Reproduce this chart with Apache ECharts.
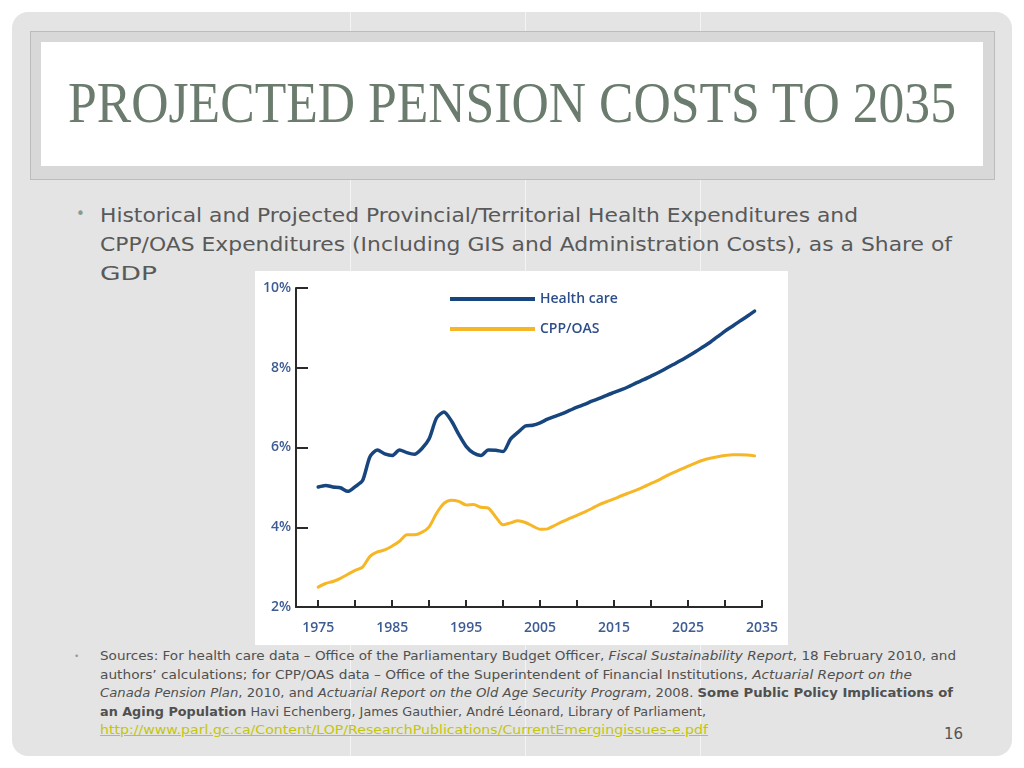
<!DOCTYPE html>
<html><head><meta charset="utf-8">
<script src="https://cdn.jsdelivr.net/npm/echarts@6/dist/echarts.min.js"></script>
<style>
html,body{margin:0;padding:0;width:1024px;height:768px;background:#fff;overflow:hidden;}
#slide{position:absolute;left:12px;top:12px;width:1000px;height:744px;border-radius:16px;background:#e4e4e4;}
.vl{position:absolute;top:12px;width:1px;height:744px;background:rgba(255,255,255,0.6);}
#frame{position:absolute;left:30px;top:31px;width:965px;height:149px;background:#d8d8d8;border:1px solid #bcbcbc;box-sizing:border-box;}
#titlebox{position:absolute;left:41px;top:42px;width:942px;height:124px;background:#fff;}
.line{position:absolute;white-space:nowrap;transform-origin:left top;}
#title{font-family:"Liberation Serif",serif;font-size:57px;line-height:57px;color:#6b7c6e;}
.b1{font-family:"DejaVu Sans",sans-serif;font-size:19px;line-height:29px;color:#595959;}
.src{font-family:"DejaVu Sans",sans-serif;font-size:12.5px;line-height:18px;color:#505050;}
.link{color:#c3c50c;text-decoration:underline;}
#chart{position:absolute;left:255px;top:271px;width:533px;height:374px;background:#fff;}
</style></head>
<body>
<div id="slide"></div>
<div class="vl" style="left:350px"></div>
<div class="vl" style="left:525px"></div>
<div class="vl" style="left:700px"></div>
<div id="frame"></div>
<div id="titlebox"></div>
<div id="title" class="line" style="left:68px;top:74px" data-w="888">PROJECTED PENSION COSTS TO 2035</div>
<div class="line b1" style="left:76px;top:200px;color:#8a9a8c;font-size:15px">•</div>
<div class="line b1" style="left:100px;top:201px" data-w="758">Historical and Projected Provincial/Territorial Health Expenditures and</div>
<div class="line b1" style="left:100px;top:230px" data-w="852">CPP/OAS Expenditures (Including GIS and Administration Costs), as a Share of</div>
<div class="line b1" style="left:100px;top:259px" data-w="57">GDP</div>
<div class="line src" style="left:74px;top:647px;color:#999;font-size:9px">•</div>
<div class="line src" style="left:100px;top:647px" data-w="856">Sources: For health care data – Office of the Parliamentary Budget Officer, <i>Fiscal Sustainability Report</i>, 18 February 2010, and</div>
<div class="line src" style="left:100px;top:665.5px" data-w="812">authors’ calculations; for CPP/OAS data – Office of the Superintendent of Financial Institutions, <i>Actuarial Report on the</i></div>
<div class="line src" style="left:100px;top:684px" data-w="853"><i>Canada Pension Plan</i>, 2010, and <i>Actuarial Report on the Old Age Security Program</i>, 2008. <b>Some Public Policy Implications of</b></div>
<div class="line src" style="left:100px;top:702.5px" data-w="606"><b>an Aging Population</b> Havi Echenberg, James Gauthier, André Léonard, Library of Parliament,</div>
<div class="line src link" style="left:100px;top:721px" data-w="608">http://www.parl.gc.ca/Content/LOP/ResearchPublications/CurrentEmergingissues-e.pdf</div>
<div class="line src" style="left:944px;top:725px;font-size:15px;color:#555">16</div>
<div id="chart"></div>
<script>
const years = [1975,1976,1977,1978,1979,1980,1981,1982,1983,1984,1985,1986,1987,1988,1989,1990,1991,1992,1993,1994,1995,1996,1997,1998,1999,2000,2001,2002,2003,2004,2005,2006,2007,2008,2009,2010,2011,2012,2013,2014,2015,2016,2017,2018,2019,2020,2021,2022,2023,2024,2025,2026,2027,2028,2029,2030,2031,2032,2033,2034];
const healthCare = [5.01,5.05,5.01,4.99,4.90,5.02,5.17,5.77,5.94,5.84,5.80,5.94,5.87,5.83,5.97,6.22,6.74,6.89,6.67,6.33,6.03,5.86,5.80,5.94,5.93,5.90,6.21,6.38,6.54,6.56,6.62,6.71,6.78,6.85,6.93,7.01,7.08,7.16,7.23,7.31,7.38,7.45,7.53,7.62,7.70,7.79,7.88,7.98,8.08,8.18,8.29,8.40,8.52,8.64,8.78,8.92,9.04,9.17,9.29,9.42];
const cppOas = [2.50,2.59,2.64,2.72,2.82,2.92,3.00,3.27,3.38,3.43,3.53,3.65,3.81,3.81,3.87,4.01,4.35,4.60,4.68,4.65,4.56,4.57,4.50,4.48,4.26,4.06,4.11,4.16,4.12,4.03,3.95,3.96,4.05,4.14,4.22,4.30,4.38,4.47,4.57,4.64,4.71,4.79,4.86,4.93,5.01,5.10,5.18,5.28,5.37,5.45,5.53,5.61,5.68,5.73,5.77,5.80,5.82,5.82,5.81,5.79];
const seriesNames = ['Health care','CPP/OAS'];
const xTickValues = [1975,1980,1985,1990,1995,2000,2005,2010,2015,2020,2025,2030,2035];
const xLabelValues = [1975,1985,1995,2005,2015,2025,2035];
const yTicks = [2,4,6,8,10];

document.querySelectorAll('[data-w]').forEach(el=>{
  const w = el.getBoundingClientRect().width;
  el.style.transform = 'scaleX(' + (parseFloat(el.dataset.w)/w) + ')';
});

const chart = echarts.init(document.getElementById('chart'), null, {renderer:'canvas'});
const labelColor = '#3d5c93';
const axisCol = '#2a2a2a';
chart.setOption({
  animation:false,
  backgroundColor:'#fff',
  grid:{left:41,top:17,right:26,bottom:38,containLabel:false},
  legend:{
    left:190, top:16, orient:'vertical', itemGap:16,
    itemWidth:85, itemHeight:4, icon:'rect',
    textStyle:{color:'#2d4e8a',fontFamily:'Open Sans',fontWeight:600,fontSize:14,padding:[0,0,0,0]},
    data:seriesNames
  },
  xAxis:{
    type:'value', min:1972, max:2035,
    axisLine:{show:true,lineStyle:{color:axisCol,width:2}},
    axisTick:{show:true,inside:true,length:7,lineStyle:{color:axisCol,width:2},customValues:xTickValues},
    axisLabel:{margin:14,color:labelColor,fontFamily:'Open Sans',fontWeight:600,fontSize:14,customValues:xLabelValues,formatter:v=>String(v)},
    splitLine:{show:false}
  },
  yAxis:{
    type:'value', min:yTicks[0], max:yTicks[yTicks.length-1], interval:2,
    axisLine:{show:true,lineStyle:{color:axisCol,width:2}},
    axisTick:{show:true,inside:true,length:12,lineStyle:{color:axisCol,width:2}},
    axisLabel:{margin:5,color:labelColor,fontFamily:'Open Sans',fontWeight:600,fontSize:14,formatter:'{value}%'},
    splitLine:{show:false}
  },
  series:[
    {name:seriesNames[0],type:'line',symbol:'none',smooth:0.25,
     lineStyle:{color:'#17457e',width:3.5,join:'round',cap:'round'},itemStyle:{color:'#17457e'},
     data:years.map((y,i)=>[y,healthCare[i]])},
    {name:seriesNames[1],type:'line',symbol:'none',smooth:0.25,
     lineStyle:{color:'#f6b625',width:3,join:'round',cap:'round'},itemStyle:{color:'#f6b625'},
     data:years.map((y,i)=>[y,cppOas[i]])}
  ]
});
</script>
</body></html>
